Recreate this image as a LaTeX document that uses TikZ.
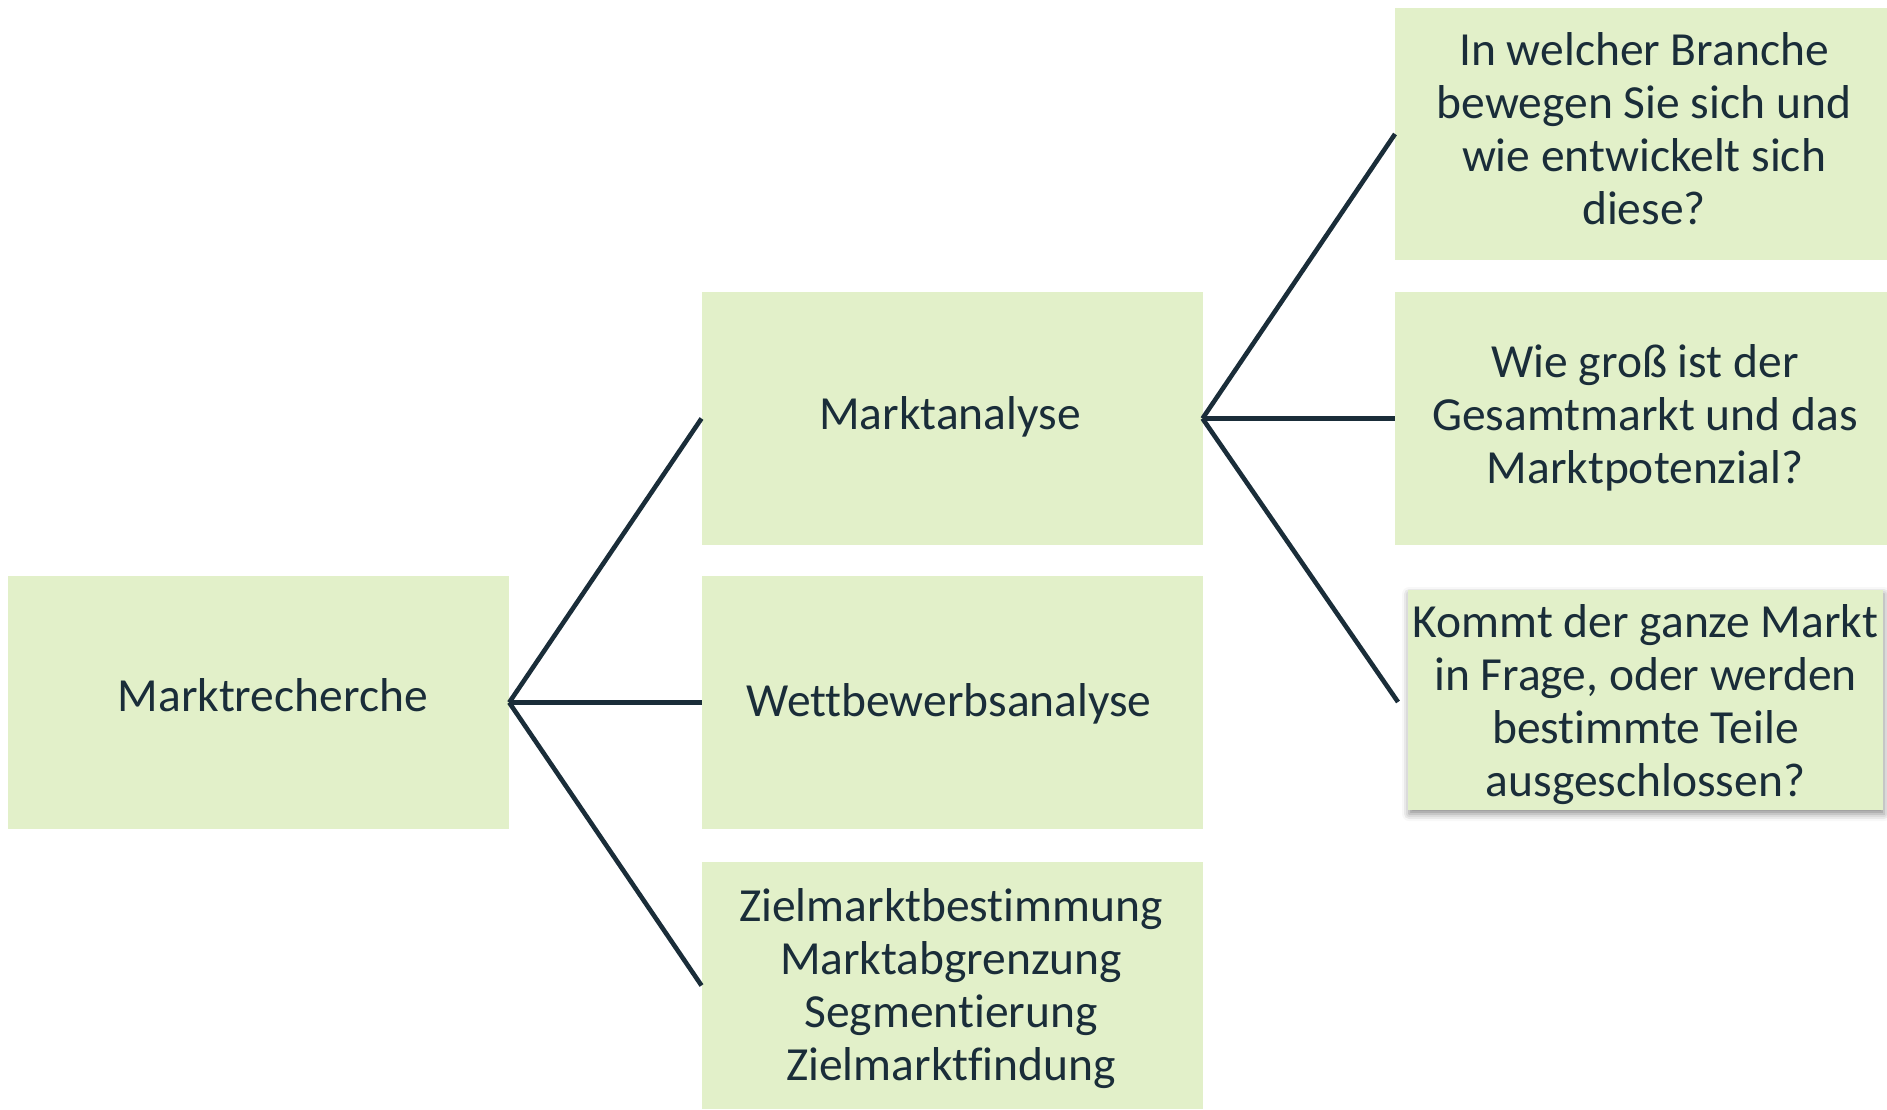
\documentclass[tikz,border=0pt]{standalone}
\usepackage{fontspec}
\setmainfont{Carlito}[Ligatures=NoCommon]
\usetikzlibrary{shadows,shadows.blur}
\definecolor{boxfill}{HTML}{E2F0C9}
\definecolor{ink}{HTML}{1A2D39}
\begin{document}
\begin{tikzpicture}[x=1pt,y=-1pt,
  box/.style={fill=boxfill, draw=none, inner sep=0pt, outer sep=0pt, minimum width=#1},
  box/.default=501pt,
  lbl/.style={inner sep=0pt, align=center, text=ink, font=\fontsize{47.5}{53}\selectfont},
  conn/.style={draw=ink, line width=4.6pt, line join=miter}]
\useasboundingbox (0,0) rectangle (1887,1109);
% left
\node[box, minimum height=253pt] (mr) at (258.7,702.5) {};
% middle
\node[box, minimum height=253pt] (ma) at (952,418.5) {};
\node[box, minimum height=253pt] (wb) at (952,702.5) {};
\node[box, minimum height=247pt] (zm) at (952,985.5) {};
% right
\node[box=492pt, minimum height=252pt] (q1) at (1641,134) {};
\node[box=492pt, minimum height=253pt] (q2) at (1641,418.5) {};
\node[box=475pt, minimum height=220pt, blur shadow={shadow xshift=1pt, shadow yshift=-4pt, shadow blur radius=7pt, shadow opacity=45}] (q3) at (1645.5,700) {};
\coordinate (k3) at (1398,702);
% texts
\node[lbl] (mr-t) at ([xshift=14pt,yshift=7pt]mr.center) {Marktrecherche};
\node[lbl] (ma-t) at ([xshift=-2pt,yshift=2pt]ma.center) {Marktanalyse};
\node[lbl] (wb-t) at ([xshift=-3pt,yshift=-1pt]wb.center) {Wettbewerbsanalyse};
\node[lbl] (zm-t) at ([xshift=-1pt,yshift=-3pt]zm.center) {Zielmarktbestimmung\\Marktabgrenzung\\Segmentierung\\Zielmarktfindung};
\node[lbl] (q1-t) at ([xshift=3pt,yshift=5pt]q1.center) {In welcher Branche\\bewegen Sie sich und\\wie entwickelt sich\\diese?};
\node[lbl] (q2-t) at ([xshift=4pt,yshift=1pt]q2.center) {Wie groß ist der\\Gesamtmarkt und das\\Marktpotenzial?};
\node[lbl] (q3-t) at ([xshift=0pt,yshift=-5pt]q3.center) {Kommt der ganze Markt\\in Frage, oder werden\\bestimmte Teile\\ausgeschlossen?};
% connectors
\draw[conn] (mr.east) -- (ma.west);
\draw[conn] (mr.east) -- (wb.west);
\draw[conn] (mr.east) -- (zm.west);
\draw[conn] (ma.east) -- (q1.west);
\draw[conn] (ma.east) -- (q2.west);
\draw[conn] (ma.east) -- (k3);
\end{tikzpicture}
\end{document}
